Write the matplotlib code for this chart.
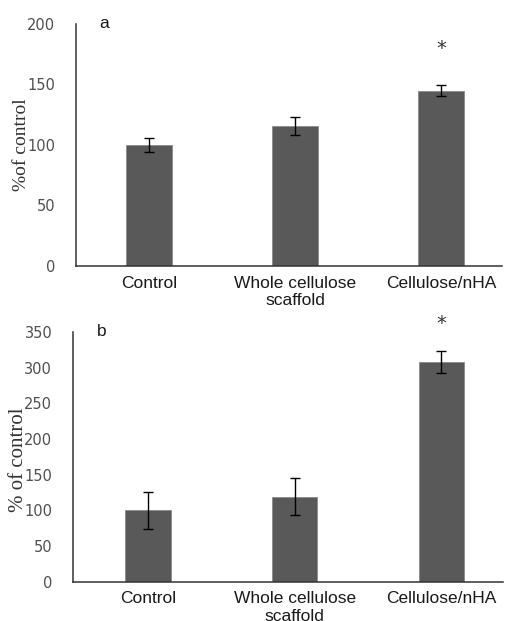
import matplotlib
matplotlib.use("Agg")
import matplotlib.pyplot as plt
import numpy as np

categories = ["Control", "Whole cellulose\nscaffold", "Cellulose/nHA"]

# panel a
values_a = [100, 116, 145]
errors_a = [6, 7.5, 4.5]
star_a = 180

# panel b
values_b = [100, 119, 308]
errors_b = [25.5, 26, 15]
star_b = 362

bar_color = "#595959"
tick_color = "#505050"


def draw_panel(ax, values, errors, ymax, step, ylabel, letter, star_y, ylabel_size):
    x = np.arange(len(categories))
    ax.bar(x, values, width=0.31, color=bar_color, edgecolor="#8a8a8a", linewidth=0.6,
           zorder=2)
    ax.errorbar(x, values, yerr=errors, fmt="none", ecolor="black", elinewidth=1.0,
                capsize=3.5, capthick=1.0, zorder=3)
    ax.set_ylim(0, ymax)
    ax.set_yticks(np.arange(0, ymax + 1, step))
    ax.set_xticks(x)
    ax.set_xticklabels(categories, fontsize=12.5, fontfamily="Liberation Sans",
                       color="#1a1a1a", linespacing=1.2)
    ax.tick_params(axis="both", length=0)
    ax.tick_params(axis="y", labelsize=10.5, labelcolor=tick_color, pad=15)
    ax.tick_params(axis="x", pad=7)
    for side in ["top", "right"]:
        ax.spines[side].set_visible(False)
    for side in ["left", "bottom"]:
        ax.spines[side].set_color("#333333")
        ax.spines[side].set_linewidth(1.1)
    ax.set_ylabel(ylabel, fontsize=ylabel_size, fontfamily="Liberation Serif",
                  color="#333333", labelpad=-2)
    ax.text(0.055, 1.0, letter, transform=ax.transAxes, fontsize=12.5,
            fontfamily="Liberation Sans", ha="left", va="center", color="#1a1a1a")
    ax.text(2, star_y, "*", fontsize=14, ha="center", va="center", color="#333333",
            clip_on=False)


fig = plt.figure(figsize=(5.05, 6.21), dpi=100)
ax1 = fig.add_axes([0.1505, 0.5717, 0.8435, 0.3897])
ax2 = fig.add_axes([0.1446, 0.0633, 0.8514, 0.4021])

draw_panel(ax1, values_a, errors_a, 200, 50, "%of control", "a", star_a, 14)
ax1.set_xlim(-0.5, 2.418)
draw_panel(ax2, values_b, errors_b, 350, 50, "% of control", "b", star_b, 15)
ax2.set_xlim(-0.511, 2.42)
ax2.yaxis.set_label_coords(-0.105, 0.49)

fig.savefig("out.png", dpi=100)
